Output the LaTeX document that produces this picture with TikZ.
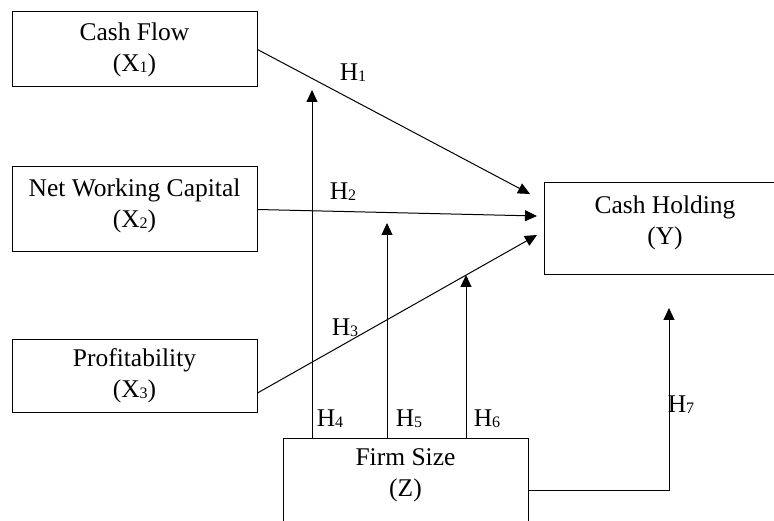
\documentclass[tikz,border=0pt]{standalone}
\usepackage{fontspec}
\setmainfont{Liberation Serif}
\usetikzlibrary{arrows.meta}

\newcommand\idx[1]{\raisebox{-1pt}{\fontsize{16}{16}\selectfont #1}}
\tikzset{
	varbox/.style={draw, line width=1pt, minimum width=245pt, align=center, inner sep=0pt},
	link/.style={line width=1pt, -{Triangle[width=11pt,length=12pt]}},
	hyp/.style={inner sep=0pt},
}

\begin{document}
\begin{tikzpicture}[x=1pt,y=-1pt,font=\fontsize{25.5}{31}\selectfont]
	\useasboundingbox (0,0) rectangle (774,521);
	\clip (0,0) rectangle (774,521);

	%boxes
	\node[varbox, minimum height=75pt] (cf) at (134.5,49.5) {Cash Flow\\(X\idx{1})};
	\node[varbox, minimum height=85pt] (nwc) at (134.5,209.5) {Net Working Capital\\(X\idx{2})\rule[-13pt]{0pt}{13pt}};
	\node[varbox, minimum height=72pt] (pr) at (134.5,376) {Profitability\\(X\idx{3})};
	\node[varbox, minimum width=242pt, minimum height=92pt] (ch) at (665,229) {Cash Holding\\(Y)\rule[-18pt]{0pt}{18pt}};
	\node[varbox, minimum height=104pt] (fs) at (405.5,490) {Firm Size\\(Z)\rule[-34pt]{0pt}{34pt}};

	%direct paths
	\coordinate (t1) at (530,194);
	\coordinate (t2) at (537,216);
	\coordinate (t3) at (537,235);
	\draw[link] (cf.east) -- (t1);
	\draw[link] (nwc.east) -- (t2);
	\draw[link] ([yshift=-17pt]pr.east) -- (t3);

	%moderation
	\foreach \x/\y/\n in {312/90/4, 387/223/5, 466/275/6}{
		\coordinate (m\n) at (\x,\y);
		\draw[link] (m\n |- fs.north) -- (m\n);}
	\coordinate (m7) at (669,308);
	\draw[link] (fs.east) -| (m7);

	%labels
	\foreach \x/\y/\n in {353/73/1, 343/192/2, 345/328/3, 330/419/4, 409/419/5, 487/419/6, 681/405/7}
		\node[hyp] (h\n) at (\x,\y) {H\idx{\n}};
\end{tikzpicture}
\end{document}
